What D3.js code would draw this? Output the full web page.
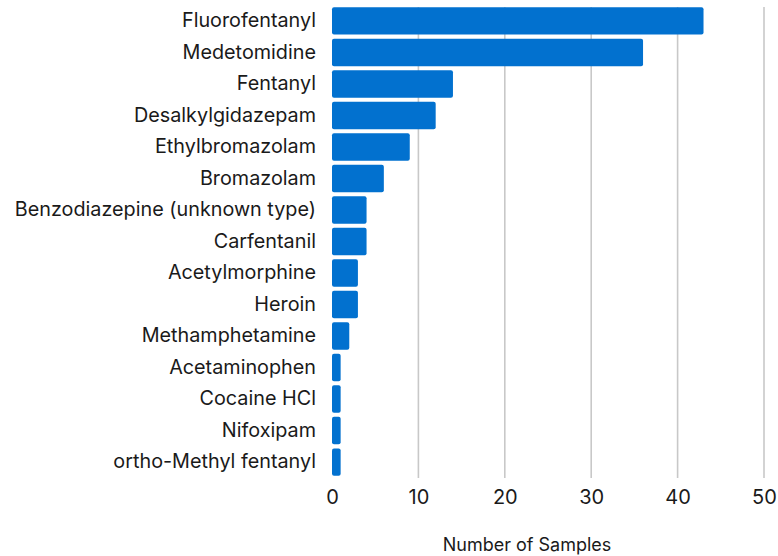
<!DOCTYPE html>
<html lang="en">
<head>
    <meta charset="UTF-8">
    <title>Number of Samples by Substance</title>
    <script src="https://d3js.org/d3.v7.min.js"></script>
    <style>
        body { margin: 0; background: #fff; }
        text { font-family: "Inter", "Noto Sans", sans-serif; fill: #1a1a1a; }
        .grid line { stroke: #c8c8c8; stroke-width: 1.6; }
    </style>
</head>
<body>
    <div id="chart"></div>
    <script>
        // substances, top to bottom
        const substances = [
            "Fluorofentanyl", "Medetomidine", "Fentanyl", "Desalkylgidazepam",
            "Ethylbromazolam", "Bromazolam", "Benzodiazepine (unknown type)",
            "Carfentanil", "Acetylmorphine", "Heroin", "Methamphetamine",
            "Acetaminophen", "Cocaine HCl", "Nifoxipam", "ortho-Methyl fentanyl"
        ];
        const samples = [43, 36, 14, 12, 9, 6, 4, 4, 3, 3, 2, 1, 1, 1, 1];
        const xTicks = [0, 10, 20, 30, 40, 50];

        const W = 778, H = 556;
        const margin = {top: 5, right: 14, bottom: 78, left: 332};
        const width = W - margin.left - margin.right,
              height = H - margin.top - margin.bottom;

        const svg = d3.select("#chart").append("svg")
            .attr("width", W)
            .attr("height", H);

        const g = svg.append("g")
            .attr("transform", `translate(${margin.left},${margin.top})`);

        const x = d3.scaleLinear().domain([0, 50]).range([0, width]);
        const y = d3.scaleBand().domain(substances).range([0, height]).paddingInner(0.13).paddingOuter(0.07);

        // vertical gridlines (not at zero)
        g.append("g").attr("class", "grid")
            .selectAll("line")
            .data(xTicks.filter(d => d > 0))
            .join("line")
            .attr("x1", d => x(d)).attr("x2", d => x(d))
            .attr("y1", 2).attr("y2", height);

        // bars
        g.selectAll(".bar")
            .data(substances)
            .join("rect")
            .attr("class", "bar")
            .attr("x", x(0))
            .attr("y", d => y(d))
            .attr("width", (d, i) => x(samples[i]) - x(0))
            .attr("height", y.bandwidth())
            .attr("rx", 2)
            .attr("fill", "#0271cf");

        // category labels
        const yAxis = g.append("g")
            .call(d3.axisLeft(y).tickSize(0).tickPadding(16));
        yAxis.select(".domain").remove();
        yAxis.selectAll("text").style("font-size", "19.8px");

        // x axis labels
        const xAxis = g.append("g")
            .attr("transform", `translate(0,${height})`)
            .call(d3.axisBottom(x).tickValues(xTicks).tickSize(0).tickPadding(12));
        xAxis.select(".domain").remove();
        xAxis.selectAll("text").style("font-size", "20px");

        // axis title
        svg.append("text")
            .attr("x", 527)
            .attr("y", H - 5)
            .attr("text-anchor", "middle")
            .style("font-size", "18px")
            .text("Number of Samples");
    </script>
</body>
</html>
